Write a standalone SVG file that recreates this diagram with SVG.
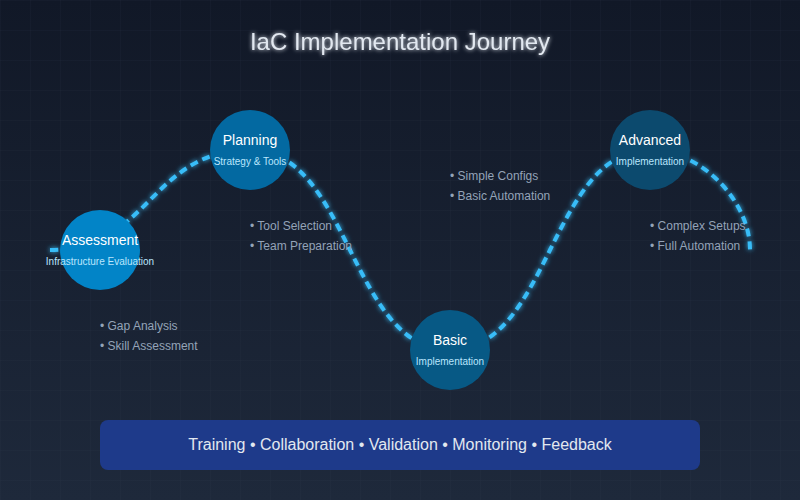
<svg xmlns="http://www.w3.org/2000/svg" width="800" height="500" viewBox="0 0 800 500">
  <defs>
    <linearGradient id="bg" x1="0" y1="0" x2="0" y2="1">
      <stop offset="0" stop-color="#111827"/>
      <stop offset="1" stop-color="#1e293b"/>
    </linearGradient>
    <pattern id="grid" width="30" height="30" patternUnits="userSpaceOnUse">
      <path d="M30 0 L0 0 0 30" fill="none" stroke="#334155" stroke-width="0.6" opacity="0.35"/>
    </pattern>
    <filter id="glow" x="-20%" y="-20%" width="140%" height="140%">
      <feGaussianBlur stdDeviation="2.5" result="b"/>
      <feMerge><feMergeNode in="b"/><feMergeNode in="SourceGraphic"/></feMerge>
    </filter>
    <filter id="tglow" x="-10%" y="-50%" width="120%" height="200%">
      <feGaussianBlur stdDeviation="2" result="b"/>
      <feMerge><feMergeNode in="b"/><feMergeNode in="SourceGraphic"/></feMerge>
    </filter>
  </defs>
  <style>
    text { font-family: "Liberation Sans", Arial, sans-serif; }
    .title { font-size: 24px; fill: #e2e8f0; text-anchor: middle; }
    .nt { font-size: 14px; fill: #ffffff; text-anchor: middle; }
    .ns { font-size: 10px; fill: #bae6fd; text-anchor: middle; }
    .bl { font-size: 12px; fill: #94a3b8; }
    .path { fill: none; stroke: #38bdf8; stroke-width: 4; stroke-dasharray: 8 5; }
    .bar { font-size: 16px; fill: #e2e8f0; text-anchor: middle; }
  </style>
  <rect width="800" height="500" fill="url(#bg)"/>
  <rect width="800" height="500" fill="url(#grid)"/>

  <text class="title" x="400" y="50" filter="url(#tglow)">IaC Implementation Journey</text>

  <g id="connectors">
    <path class="path" filter="url(#glow)" d="M50,250 C150,250 150,150 250,150 C350,150 350,350 450,350 C550,350 550,150 650,150 C700,150 750,200 750,250"/>
  </g>

  <g id="assessment">
    <circle cx="100" cy="250" r="40" fill="#0284c7"/>
    <text class="nt" x="100" y="245">Assessment</text>
    <text class="ns" x="100" y="265">Infrastructure Evaluation</text>
  </g>
  <g id="planning">
    <circle cx="250" cy="150" r="40" fill="#0369a1"/>
    <text class="nt" x="250" y="145">Planning</text>
    <text class="ns" x="250" y="165">Strategy &amp; Tools</text>
  </g>
  <g id="basic">
    <circle cx="450" cy="350" r="40" fill="#075985"/>
    <text class="nt" x="450" y="345">Basic</text>
    <text class="ns" x="450" y="365">Implementation</text>
  </g>
  <g id="advanced">
    <circle cx="650" cy="150" r="40" fill="#0c4a6e"/>
    <text class="nt" x="650" y="145">Advanced</text>
    <text class="ns" x="650" y="165">Implementation</text>
  </g>

  <g id="notes">
    <text class="bl" x="100" y="330">• Gap Analysis</text>
    <text class="bl" x="100" y="350">• Skill Assessment</text>
    <text class="bl" x="250" y="230">• Tool Selection</text>
    <text class="bl" x="250" y="250">• Team Preparation</text>
    <text class="bl" x="450" y="180">• Simple Configs</text>
    <text class="bl" x="450" y="200">• Basic Automation</text>
    <text class="bl" x="650" y="230">• Complex Setups</text>
    <text class="bl" x="650" y="250">• Full Automation</text>
  </g>

  <g id="footer">
    <rect x="100" y="420" width="600" height="50" rx="8" fill="#1e3a8a"/>
    <text class="bar" x="400" y="450">Training • Collaboration • Validation • Monitoring • Feedback</text>
  </g>
</svg>
